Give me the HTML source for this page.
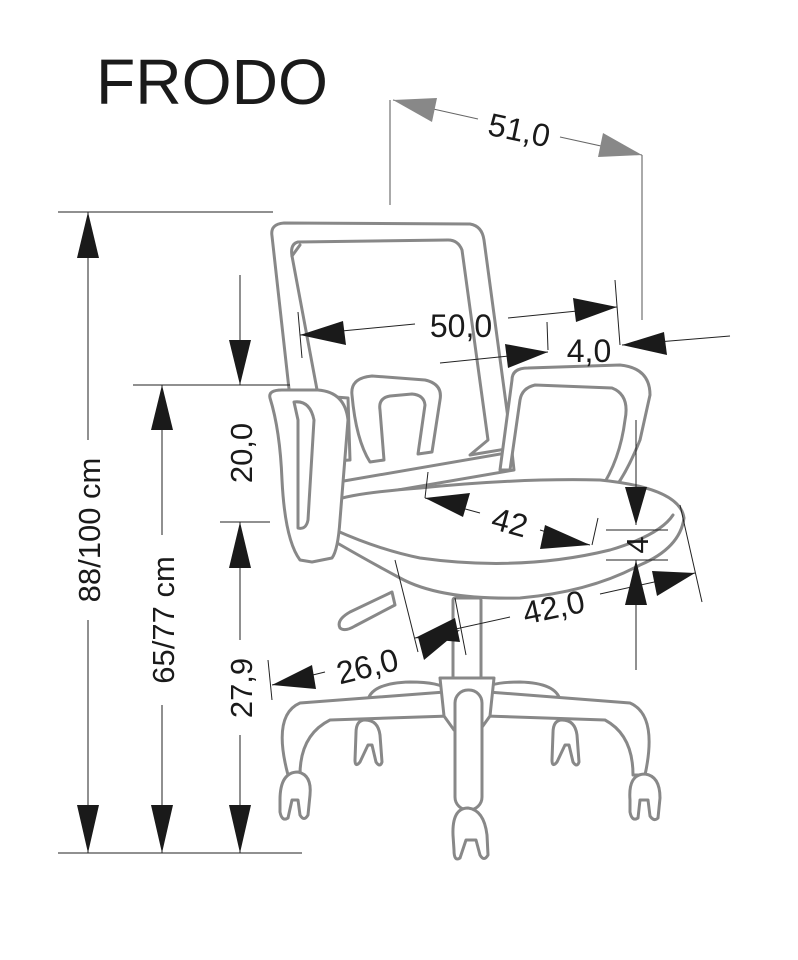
<!DOCTYPE html>
<html><head><meta charset="utf-8"><style>
html,body{margin:0;padding:0;background:#fff;}
svg{display:block;}
text{font-family:"Liberation Sans",Arial,sans-serif;fill:#1a1a1a;}
</style></head><body>
<svg width="798" height="960" viewBox="0 0 798 960" xmlns="http://www.w3.org/2000/svg">
<rect width="798" height="960" fill="#fff"/>
<text x="96" y="104" font-size="64" textLength="232" lengthAdjust="spacingAndGlyphs">FRODO</text>

<!-- chair -->
<g fill="#fff" stroke="#888" stroke-width="3" stroke-linejoin="round" stroke-linecap="round">
  <path d="M272,236 Q270,224 284,223 L470,224 Q482,226 484,240 L512,448 L470,455 L488,440 L462,250 Q458,240 448,240 L298,242 Q290,244 292,256 L318,395 L290,398 Z"/>
  <path d="M300,245 L292,256"/>
  <path d="M310,395 L318,462 L350,460 L348,398 Z"/>
  <path d="M338,482 L512,452 L514,470 L340,500 Z"/>
  <path d="M352,395 Q350,378 372,376 L425,380 Q443,384 440,400 L432,452 L418,454 L425,405 Q424,395 412,394 L390,396 Q378,398 380,410 L384,460 L370,462 Q356,440 352,395 Z"/>
  <path d="M512,380 Q512,368 528,368 L620,365 Q650,368 650,395 L640,440 Q628,470 615,488 L600,490 Q620,460 625,420 Q630,395 612,388 L535,385 Q522,388 520,400 L510,470 L500,470 Z"/>
  <path d="M330,505 Q330,495 420,488 Q520,478 600,480 Q680,488 684,518 Q680,548 640,565 Q590,592 520,598 Q440,600 400,578 Q370,562 332,540 Z"/>
  <path d="M335,530 Q380,550 420,558 Q520,572 610,550 Q660,535 673,515"/>
  <path d="M270,398 Q268,390 282,390 L318,390 Q345,392 348,420 L340,520 Q338,550 332,558 L312,562 L300,560 Q285,540 282,480 Q280,430 270,398 Z"/>
  <path d="M294,402 Q310,400 314,420 L308,520 Q306,530 298,528 L298,420 Z"/>
  <path d="M392,592 L350,612 Q336,620 340,628 Q345,632 355,626 L395,605 Z"/>
  <rect x="453" y="598" width="28" height="82" rx="2"/>
  <path d="M356,733 Q356,720 365,720 Q378,720 380,735 L382,762 Q380,768 376,762 L372,745 L368,745 L360,762 Q355,768 355,760 Z"/>
  <path d="M553,733 Q553,720 562,720 Q575,720 577,735 L579,762 Q577,768 573,762 L569,745 L565,745 L557,762 Q552,768 552,760 Z"/>
  <path d="M368,700 Q372,683 410,682 Q440,682 448,690 L445,710 L375,712 Z"/>
  <path d="M560,700 Q556,683 520,682 Q490,682 482,690 L485,710 L555,712 Z"/>
  <path d="M445,692 L300,703 Q272,715 288,775 L300,775 Q300,735 330,720 L450,716 Z"/>
  <path d="M488,692 L630,703 Q658,715 645,775 L633,775 Q633,735 605,720 L485,716 Z"/>
  <path d="M440,678 L494,678 L490,716 L480,730 L454,730 L444,716 Z"/>
  <rect x="455" y="690" width="27" height="120" rx="13"/>
  <path d="M280,800 Q280,772 298,772 Q312,775 310,795 L308,815 Q304,822 300,815 L298,800 L292,800 L288,818 Q282,822 280,812 Z"/>
  <path d="M630,800 Q628,774 645,774 Q660,776 660,798 L658,818 Q654,822 650,816 L648,800 L640,800 L638,818 Q632,822 630,812 Z"/>
  <path d="M453,835 Q452,808 468,808 Q484,810 487,835 L488,855 Q484,862 480,855 L476,840 L466,840 L460,858 Q454,862 454,850 Z"/>
</g>

<g stroke="#222" stroke-width="1" fill="none">
  <line x1="58" y1="212" x2="273" y2="212"/>
  <line x1="133" y1="385" x2="290" y2="385"/>
  <line x1="220" y1="522" x2="270" y2="522"/>
  <line x1="58" y1="853" x2="302" y2="853"/>
  <line x1="88" y1="212" x2="88" y2="440"/>
  <line x1="88" y1="620" x2="88" y2="853"/>
  <line x1="162" y1="385" x2="162" y2="535"/>
  <line x1="162" y1="705" x2="162" y2="853"/>
  <line x1="240" y1="275" x2="240" y2="385"/>
  <line x1="240" y1="522" x2="240" y2="640"/>
  <line x1="240" y1="735" x2="240" y2="853"/>
  <line x1="390" y1="100" x2="390" y2="205" stroke="#555"/>
  <line x1="642" y1="155" x2="642" y2="320" stroke="#555"/>
  <line x1="300" y1="335" x2="415" y2="324"/>
  <line x1="508" y1="318" x2="617" y2="307"/>
  <line x1="298" y1="312" x2="302" y2="358"/>
  <line x1="615" y1="280" x2="620" y2="345"/>
  <line x1="440" y1="363" x2="548" y2="352"/>
  <line x1="547" y1="322" x2="548" y2="350"/>
  <line x1="622" y1="345" x2="730" y2="336"/>
  <line x1="425" y1="498" x2="480" y2="513"/>
  <line x1="540" y1="530" x2="590" y2="545"/>
  <line x1="425" y1="498" x2="428" y2="472"/>
  <line x1="592" y1="545" x2="598" y2="518"/>
  <line x1="636" y1="420" x2="636" y2="525"/>
  <line x1="636" y1="560" x2="636" y2="670"/>
  <line x1="606" y1="530" x2="668" y2="530"/>
  <line x1="606" y1="560" x2="668" y2="560"/>
  <line x1="415" y1="638" x2="510" y2="617"/>
  <line x1="600" y1="594" x2="695" y2="573"/>
  <line x1="680" y1="505" x2="702" y2="602"/>
  <line x1="395" y1="560" x2="418" y2="652"/>
  <line x1="455" y1="598" x2="466" y2="655"/>
  <line x1="272" y1="685" x2="325" y2="672"/>
  <line x1="268" y1="660" x2="272" y2="700"/>
</g>
<g fill="#1a1a1a">
  <polygon points="88,212 77,258 99,258"/>
  <polygon points="88,853 77,805 99,805"/>
  <polygon points="162,385 151,430 173,430"/>
  <polygon points="162,853 151,805 173,805"/>
  <polygon points="240,385 229,340 251,340"/>
  <polygon points="240,522 229,568 251,568"/>
  <polygon points="240,853 229,805 251,805"/>
  <polygon points="636,525 625,487 647,487"/>
  <polygon points="636,560 625,605 647,605"/>
  <polygon points="300,335 343,321 346,345"/>
  <polygon points="617,307 573,298 576,322"/>
  <polygon points="548,352 505,344 508,368"/>
  <polygon points="622,345 664,332 667,355"/>
  <polygon points="425,498 470,493 463,517"/>
  <polygon points="590,545 545,525 540,549"/>
  <polygon points="415,638 455,618 460,642"/>
  <polygon points="695,573 652,571 657,596"/>
  <polygon points="272,685 312,665 316,689"/>
  <polygon points="460,630 418,637 424,660"/>
</g>
<g stroke="#666" stroke-width="1">
  <line x1="393" y1="100" x2="478" y2="119"/>
  <line x1="560" y1="137" x2="642" y2="155"/>
</g>
<polygon points="393,100 437,98 432,122" fill="#888"/>
<polygon points="642,155 598,157 603,133" fill="#888"/>

<text x="0" y="0" font-size="31" text-anchor="middle" transform="translate(100,530) rotate(-90)">88/100 cm</text>
<text x="0" y="0" font-size="31" text-anchor="middle" transform="translate(174,620) rotate(-90)">65/77 cm</text>
<text x="0" y="0" font-size="31" text-anchor="middle" transform="translate(252,453) rotate(-90)">20,0</text>
<text x="0" y="0" font-size="31" text-anchor="middle" transform="translate(252,688) rotate(-90)">27,9</text>
<text x="0" y="0" font-size="31" text-anchor="middle" transform="translate(648,545) rotate(-90)">4</text>
<text x="0" y="0" font-size="32" text-anchor="middle" transform="translate(517,141) rotate(12)">51,0</text>
<text x="461" y="337" font-size="32" text-anchor="middle">50,0</text>
<text x="589" y="362" font-size="32" text-anchor="middle">4,0</text>
<text x="0" y="0" font-size="32" text-anchor="middle" transform="translate(507,533) rotate(15)">42</text>
<text x="0" y="0" font-size="32" text-anchor="middle" transform="translate(556,618) rotate(-12)">42,0</text>
<text x="0" y="0" font-size="32" text-anchor="middle" transform="translate(370,677) rotate(-14)">26,0</text>
</svg>
</body></html>
